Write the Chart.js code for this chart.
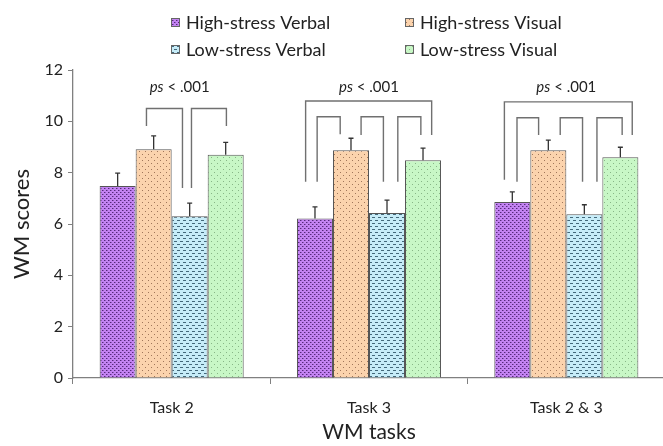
<!DOCTYPE html>
<html>
<head>
<meta charset="utf-8">
<script src="https://cdn.jsdelivr.net/npm/chart.js@4"></script>
<style>
  html, body { margin: 0; padding: 0; background: #fff; overflow: hidden; }
  #wrap { width: 663px; height: 446px; overflow: hidden; }
</style>
</head>
<body>
<div id="wrap"><canvas id="c" width="666" height="446"></canvas></div>
<script>
// data
const categories = ['Task 2', 'Task 3', 'Task 2 & 3'];
const seriesLabels = ['High-stress Verbal', 'High-stress Visual', 'Low-stress Verbal', 'Low-stress Visual'];
const highVerbal = [7.48, 6.21, 6.86];
const highVisual = [8.91, 8.87, 8.87];
const lowVerbal = [6.30, 6.43, 6.38];
const lowVisual = [8.70, 8.48, 8.60];
const highVerbalErr = [0.50, 0.46, 0.39];
const highVisualErr = [0.52, 0.47, 0.40];
const lowVerbalErr = [0.51, 0.50, 0.37];
const lowVisualErr = [0.48, 0.48, 0.39];
const yTicks = [0, 2, 4, 6, 8, 10, 12];
const pLabels = ['ps < .001', 'ps < .001', 'ps < .001'];

// significance brackets: [category, left bar, left shift (bar widths), left leg end,
//                          right bar, right shift, right leg end, top]
const brackets = [
  [0, 1, -0.2, 9.82, 2, -0.2, 7.4, 10.5],
  [0, 2, 0.05, 7.4, 3, 0.02, 9.82, 10.5],
  [1, 0, -0.26, 7.65, 3, 0.24, 9.47, 10.79],
  [1, 0, 0.06, 7.65, 1, -0.3, 9.5, 10.18],
  [1, 1, 0.28, 9.47, 2, -0.1, 7.65, 10.18],
  [1, 2, 0.3, 7.65, 3, -0.06, 9.47, 10.18],
  [2, 0, -0.22, 7.72, 3, 0.33, 9.47, 10.76],
  [2, 0, 0.13, 7.65, 1, -0.27, 9.47, 10.14],
  [2, 1, 0.33, 9.47, 2, -0.05, 7.65, 10.14],
  [2, 2, 0.35, 7.65, 3, 0.05, 9.47, 10.14]
];

const FONT = 'Lato, "Open Sans", sans-serif';

function makePattern(base, dot, kind) {
  const p = document.createElement('canvas');
  const s = kind === 'cross' ? 4 : 6;
  p.width = s; p.height = s;
  const g = p.getContext('2d');
  g.fillStyle = base;
  g.fillRect(0, 0, s, s);
  g.fillStyle = dot;
  if (kind === 'cross') {
    g.fillRect(0, 0, 1, 1);
    g.fillRect(2, 2, 1, 1);
    g.globalAlpha = 0.45;
    g.fillRect(1, 0, 1, 1);
    g.fillRect(3, 2, 1, 1);
  } else if (kind === 'dots') {
    g.fillRect(1, 1, 1, 1);
    g.fillRect(4, 4, 1, 1);
  } else if (kind === 'dash') {
    g.fillRect(0, 1, 3, 1);
    g.fillRect(3, 4, 3, 1);
  } else {
    g.globalAlpha = 0.7;
    g.fillRect(1, 1, 1, 1);
    g.fillRect(4, 4, 1, 1);
  }
  return document.getElementById('c').getContext('2d').createPattern(p, 'repeat');
}

const fills = [
  makePattern('#c383f2', '#55287a', 'cross'),
  makePattern('#fbd3ad', '#a0765a', 'dots'),
  makePattern('#c6ecf8', '#43687a', 'dash'),
  makePattern('#c8f7c6', '#6c9a6c', 'sparse')
];
const values = [highVerbal, highVisual, lowVerbal, lowVisual];
const errors = [highVerbalErr, highVisualErr, lowVerbalErr, lowVisualErr];

const extras = {
  id: 'extras',
  afterDatasetsDraw(chart) {
    const ctx = chart.ctx;
    const y = chart.scales.y;
    const x = chart.scales.x;
    ctx.save();
    // error bars
    ctx.strokeStyle = '#333';
    ctx.lineWidth = 1.3;
    values.forEach((vals, d) => {
      const meta = chart.getDatasetMeta(d);
      vals.forEach((v, i) => {
        const bar = meta.data[i];
        const top = y.getPixelForValue(v + errors[d][i]);
        ctx.beginPath();
        ctx.moveTo(bar.x, bar.y);
        ctx.lineTo(bar.x, top);
        ctx.moveTo(bar.x - 2.5, top);
        ctx.lineTo(bar.x + 2.5, top);
        ctx.stroke();
      });
    });
    // brackets
    ctx.strokeStyle = '#707070';
    ctx.lineWidth = 1.4;
    brackets.forEach(b => {
      const lb = chart.getDatasetMeta(b[1]).data[b[0]];
      const rb = chart.getDatasetMeta(b[4]).data[b[0]];
      const x1 = lb.x + b[2] * lb.width;
      const x2 = rb.x + b[5] * rb.width;
      const yt = y.getPixelForValue(b[7]);
      ctx.beginPath();
      ctx.moveTo(x1, y.getPixelForValue(b[3]));
      ctx.lineTo(x1, yt);
      ctx.lineTo(x2, yt);
      ctx.lineTo(x2, y.getPixelForValue(b[6]));
      ctx.stroke();
    });
    // p labels
    const shift = [8, 0, 0];
    ctx.fillStyle = '#222';
    ctx.textBaseline = 'middle';
    pLabels.forEach((t, i) => {
      const cx = x.getPixelForValue(i) + shift[i];
      const cy = y.getPixelForValue(11.35);
      const it = t.slice(0, 2), rest = t.slice(2);
      ctx.font = 'italic 15px ' + FONT;
      const w1 = ctx.measureText(it).width;
      ctx.font = '15px ' + FONT;
      const w2 = ctx.measureText(rest).width;
      const sx = cx - (w1 + w2) / 2;
      ctx.textAlign = 'left';
      ctx.font = 'italic 15px ' + FONT;
      ctx.fillText(it, sx, cy);
      ctx.font = '15px ' + FONT;
      ctx.fillText(rest, sx + w1, cy);
    });
    ctx.restore();
  },
  afterDraw(chart) {
    // two-column legend
    const ctx = chart.ctx;
    ctx.save();
    const cols = [171, 405];
    const rows = [22, 49];
    ctx.font = '18px ' + FONT;
    ctx.textBaseline = 'middle';
    ctx.textAlign = 'left';
    seriesLabels.forEach((lab, i) => {
      const bx = cols[i % 2], by = rows[Math.floor(i / 2)];
      ctx.fillStyle = fills[i];
      ctx.fillRect(bx, by - 4, 9, 9);
      ctx.strokeStyle = '#666';
      ctx.lineWidth = 1;
      ctx.strokeRect(bx + 0.5, by - 3.5, 8, 8);
      ctx.fillStyle = '#222';
      ctx.fillText(lab, bx + 15, by + 1);
    });
    ctx.restore();
  }
};

new Chart(document.getElementById('c'), {
  type: 'bar',
  data: {
    labels: categories,
    datasets: values.map((v, d) => ({
      label: seriesLabels[d],
      data: v,
      backgroundColor: fills[d],
      borderColor: '#555',
      borderWidth: 1,
      borderSkipped: 'bottom',
      categoryPercentage: 0.73,
      barPercentage: 1
    }))
  },
  options: {
    responsive: false,
    animation: false,
    layout: { padding: { top: 70, left: 0, right: 1, bottom: 0 } },
    plugins: { legend: { display: false }, tooltip: { enabled: false } },
    scales: {
      x: {
        grid: { display: true, drawOnChartArea: false, drawTicks: true, tickLength: 6, color: '#808080', offset: true },
        border: { color: '#808080', width: 1.3 },
        ticks: { color: '#222', font: { family: FONT, size: 16 }, padding: 14 },
        title: { display: true, text: 'WM tasks', color: '#222', font: { family: FONT, size: 21 }, padding: { top: 10, bottom: 1 } },
        afterFit(s) { s.height = 68; }
      },
      y: {
        min: 0,
        max: 12,
        afterBuildTicks(s) { s.ticks = yTicks.map(v => ({ value: v })); },
        grid: { display: true, drawOnChartArea: false, drawTicks: true, tickLength: 5, color: '#808080' },
        border: { color: '#808080', width: 1.3 },
        ticks: { color: '#222', font: { family: FONT, size: 16 }, padding: 5 },
        title: { display: true, text: 'WM scores', color: '#222', font: { family: FONT, size: 22 }, padding: { top: 9 } },
        afterFit(s) { s.width = 73; }
      }
    }
  },
  plugins: [extras]
});
</script>
</body>
</html>
